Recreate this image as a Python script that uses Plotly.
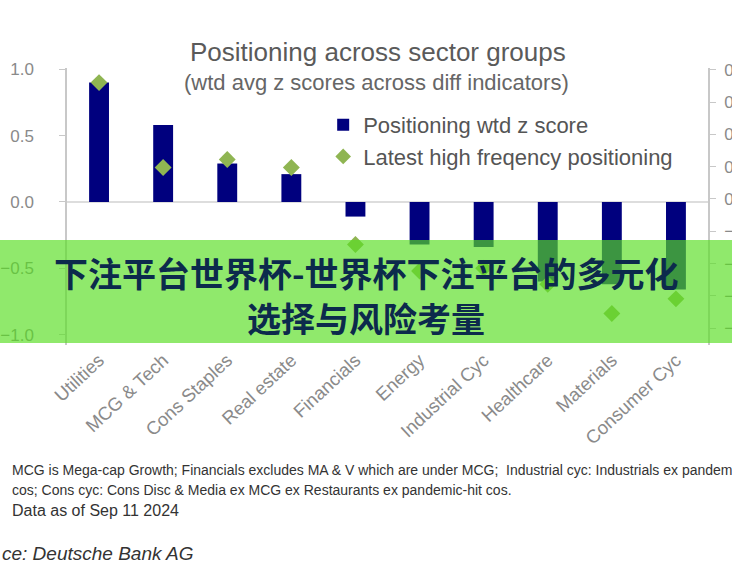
import plotly.graph_objects as go

categories = ["Utilities", "MCG & Tech", "Cons Staples", "Real estate", "Financials",
              "Energy", "Industrial Cyc", "Healthcare", "Materials", "Consumer Cyc"]
positioning_z = [0.90, 0.58, 0.29, 0.21, -0.11, -0.32, -0.34, -0.60, -0.62, -0.66]
latest_hf = [0.90, 0.26, 0.32, 0.26, -0.32, -0.52, -0.50, -0.62, -0.84, -0.73]
left_ticks = [1.0, 0.5, 0.0, -0.5, -1.0]
right_ticks = [0.8, 0.6, 0.4, 0.2, 0.0, -0.2, -0.4, -0.6, -0.8]

W, H = 732, 584
L, R, T, B = 66.7, 708.0, 68.0, 345.0
PW, PH = R - L, B - T


def px(x):
    return (x - L) / PW


def py(y):
    return (B - y) / PH


AX_FONT = "Liberation Sans, Arial, sans-serif"
GRAY = "#8a8a8a"

fig = go.Figure()
fig.add_trace(go.Bar(
    x=categories, y=positioning_z, name="Positioning wtd z score",
    marker=dict(color="#00007e", line=dict(width=0)), width=0.31,
))
fig.add_trace(go.Scatter(
    x=categories, y=latest_hf, name="Latest high freqency positioning",
    mode="markers", marker=dict(symbol="diamond", size=13, color="#8fb552"),
))
# invisible anchor so the right axis is drawn
fig.add_trace(go.Scatter(x=[categories[0]], y=[0], yaxis="y2", mode="markers",
                         marker=dict(opacity=0), showlegend=False, hoverinfo="skip"))

fig.update_layout(
    width=W, height=H,
    margin=dict(l=L, r=W - R, t=T, b=H - B, autoexpand=False),
    paper_bgcolor="white", plot_bgcolor="white",
    showlegend=True,
    legend=dict(x=px(323), y=py(104), xanchor="left", yanchor="top",
                font=dict(family=AX_FONT, size=22, color="#555555"),
                bgcolor="rgba(0,0,0,0)", tracegroupgap=0, itemsizing="constant"),
    xaxis=dict(type="category", range=[-0.5, 9.5], showgrid=False, showline=False,
               zeroline=False, tickangle=-43, ticks="",
               tickfont=dict(family=AX_FONT, size=18.5, color=GRAY)),
    yaxis=dict(range=[-1.078, 1.01], tickvals=left_ticks, tickformat=".1f",
               showgrid=False, zeroline=True, zerolinecolor="#dddddd", zerolinewidth=2,
               showline=True, linecolor="#c8c8c8", linewidth=1.5,
               ticks="outside", ticklen=6, tickcolor="#c8c8c8", ticklabelstandoff=22,
               tickfont=dict(family=AX_FONT, size=17, color=GRAY)),
    yaxis2=dict(range=[-0.904, 0.811], tickvals=right_ticks, tickformat=".1f",
                overlaying="y", side="right", showgrid=False, zeroline=False,
                showline=True, linecolor="#c8c8c8", linewidth=1.5,
                ticks="outside", ticklen=6, tickcolor="#c8c8c8", ticklabelstandoff=5,
                tickfont=dict(family=AX_FONT, size=17, color=GRAY), automargin=False),
)

ann = []
ann.append(dict(text="Positioning across sector groups", x=px(378), y=py(52),
                font=dict(family=AX_FONT, size=26, color="#5a5a5a")))
ann.append(dict(text="(wtd avg z scores across diff indicators)", x=px(376), y=py(82),
                font=dict(family=AX_FONT, size=22, color="#666666")))
NOTE_FONT = "Liberation Sans Narrow, Arial Narrow, Liberation Sans, sans-serif"
ann.append(dict(text="MCG is Mega-cap Growth; Financials excludes MA & V which are under MCG;  Industrial cyc: Industrials ex pandemic-hit",
                x=px(10), y=py(470), xanchor="left",
                font=dict(family=NOTE_FONT, size=14, color="#333333")))
ann.append(dict(text="cos; Cons cyc: Cons Disc & Media ex MCG ex Restaurants ex pandemic-hit cos.",
                x=px(10), y=py(490), xanchor="left",
                font=dict(family=NOTE_FONT, size=14, color="#333333")))
ann.append(dict(text="Data as of Sep 11 2024", x=px(10), y=py(510), xanchor="left",
                font=dict(family=NOTE_FONT, size=16, color="#333333")))
ann.append(dict(text="<i>ce: Deutsche Bank AG</i>", x=px(0), y=py(553), xanchor="left",
                font=dict(family=NOTE_FONT, size=19, color="#333333")))
# banner texts
BANNER_FONT = "Noto Sans CJK SC, sans-serif"
ann.append(dict(text="<b>下注平台世界杯-世界杯下注平台的多元化</b>", x=px(366), y=py(272),
                font=dict(family=BANNER_FONT, size=34, color="#0c2a4c")))
ann.append(dict(text="<b>选择与风险考量</b>", x=px(366), y=py(317),
                font=dict(family=BANNER_FONT, size=34, color="#0c2a4c")))

for a in ann:
    a.setdefault("xanchor", "center")
    a.update(xref="paper", yref="paper", yanchor="middle", showarrow=False)
fig.update_layout(annotations=ann)

fig.add_shape(type="rect", xref="paper", yref="paper", x0=px(-5), x1=px(740),
              y0=py(343), y1=py(240), fillcolor="rgba(90,222,36,0.67)",
              line=dict(width=0), layer="above")

fig.write_html("out.html")
